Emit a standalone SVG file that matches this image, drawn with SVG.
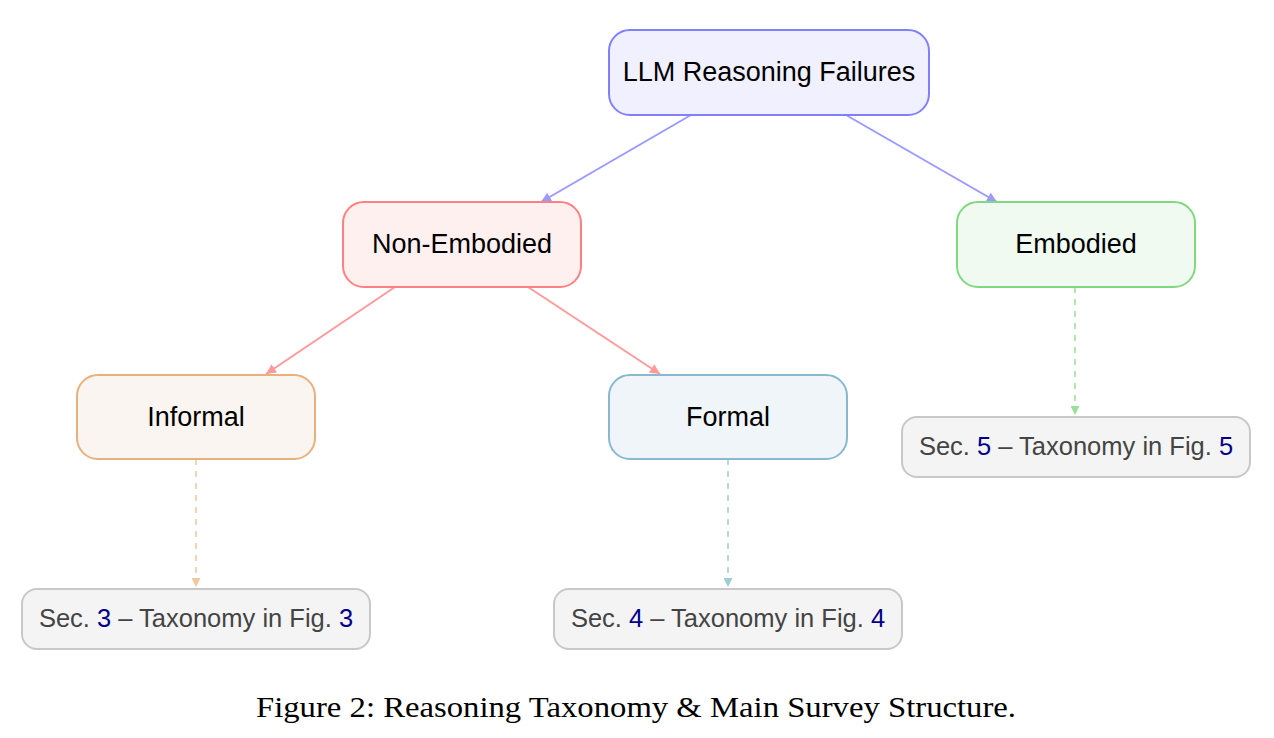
<svg xmlns="http://www.w3.org/2000/svg" width="1274" height="738" viewBox="0 0 1274 738">
<defs>
<marker id="ab" viewBox="0 0 10 10" refX="10" refY="5" markerWidth="11" markerHeight="10" markerUnits="userSpaceOnUse" orient="auto"><path d="M0,0 L10,5 L0,10 z" fill="#9a9aff"/></marker>
<marker id="ar" viewBox="0 0 10 10" refX="10" refY="5" markerWidth="11" markerHeight="10" markerUnits="userSpaceOnUse" orient="auto"><path d="M0,0 L10,5 L0,10 z" fill="#ff9a9a"/></marker>
<marker id="ag" viewBox="0 0 10 10" refX="10" refY="5" markerWidth="9" markerHeight="9" markerUnits="userSpaceOnUse" orient="auto"><path d="M0,0 L10,5 L0,10 z" fill="#98e098"/></marker>
<marker id="ao" viewBox="0 0 10 10" refX="10" refY="5" markerWidth="9" markerHeight="9" markerUnits="userSpaceOnUse" orient="auto"><path d="M0,0 L10,5 L0,10 z" fill="#f0c8a0"/></marker>
<marker id="ac" viewBox="0 0 10 10" refX="10" refY="5" markerWidth="9" markerHeight="9" markerUnits="userSpaceOnUse" orient="auto"><path d="M0,0 L10,5 L0,10 z" fill="#a0ccd8"/></marker>
</defs>
<style>
.t{font-family:"Liberation Sans","DejaVu Sans",sans-serif;font-size:27px;fill:#000;text-anchor:middle;dominant-baseline:central}
.s{font-family:"Liberation Sans","DejaVu Sans",sans-serif;font-size:25.5px;fill:#444;text-anchor:middle;dominant-baseline:central}
.n{fill:#00008b}
.box{stroke-width:2}
.sec{fill:#f4f4f4;stroke:#c8c8c8;stroke-width:2}
.c{fill:none;stroke-width:2}
.d{fill:none;stroke-width:1.5;stroke-dasharray:6,6}
.cap{font-family:"Liberation Serif","DejaVu Serif",serif;font-size:30px;fill:#000;text-anchor:middle;dominant-baseline:central}
</style>
<rect width="1274" height="738" fill="#fff"/>
<g id="connectors">
<line class="c" x1="691" y1="115" x2="541" y2="202" stroke="#9a9aff" marker-end="url(#ab)"/>
<line class="c" x1="846" y1="115" x2="997" y2="202" stroke="#9a9aff" marker-end="url(#ab)"/>
<line class="c" x1="395" y1="287" x2="266" y2="374" stroke="#ff9a9a" marker-end="url(#ar)"/>
<line class="c" x1="528" y1="287" x2="660" y2="374" stroke="#ff9a9a" marker-end="url(#ar)"/>
<line class="d" x1="1075" y1="287" x2="1075" y2="415" stroke="#98e098" marker-end="url(#ag)"/>
<line class="d" x1="196" y1="459" x2="196" y2="587" stroke="#f0c8a0" marker-end="url(#ao)"/>
<line class="d" x1="728" y1="459" x2="728" y2="587" stroke="#a0ccd8" marker-end="url(#ac)"/>
</g>
<g id="root">
<rect class="box" x="609" y="30" width="320" height="85" rx="21" fill="#f0f0fe" stroke="#8080ff"/>
<text class="t" x="769" y="72">LLM Reasoning Failures</text>
</g>
<g id="nonembodied">
<rect class="box" x="343" y="202" width="238" height="85" rx="21" fill="#fff0f0" stroke="#ff8080"/>
<text class="t" x="462" y="244">Non-Embodied</text>
</g>
<g id="embodied">
<rect class="box" x="957" y="202" width="238" height="85" rx="21" fill="#f0faf0" stroke="#80d880"/>
<text class="t" x="1076" y="244">Embodied</text>
</g>
<g id="informal">
<rect class="box" x="77" y="375" width="238" height="84" rx="21" fill="#faf5f0" stroke="#e8b07a"/>
<text class="t" x="196" y="417">Informal</text>
</g>
<g id="formal">
<rect class="box" x="609" y="375" width="238" height="84" rx="21" fill="#eff5f9" stroke="#8ab8d0"/>
<text class="t" x="728" y="417">Formal</text>
</g>
<g id="sec5">
<rect class="sec" x="902" y="417" width="348" height="60" rx="15"/>
<text class="s" x="1076" y="446">Sec. <tspan class="n">5</tspan> – Taxonomy in Fig. <tspan class="n">5</tspan></text>
</g>
<g id="sec3">
<rect class="sec" x="22" y="589" width="348" height="60" rx="15"/>
<text class="s" x="196" y="618">Sec. <tspan class="n">3</tspan> – Taxonomy in Fig. <tspan class="n">3</tspan></text>
</g>
<g id="sec4">
<rect class="sec" x="554" y="589" width="348" height="60" rx="15"/>
<text class="s" x="728" y="618">Sec. <tspan class="n">4</tspan> – Taxonomy in Fig. <tspan class="n">4</tspan></text>
</g>
<text class="cap" x="636" y="706" textLength="760" lengthAdjust="spacingAndGlyphs">Figure 2: Reasoning Taxonomy &amp; Main Survey Structure.</text>
</svg>
